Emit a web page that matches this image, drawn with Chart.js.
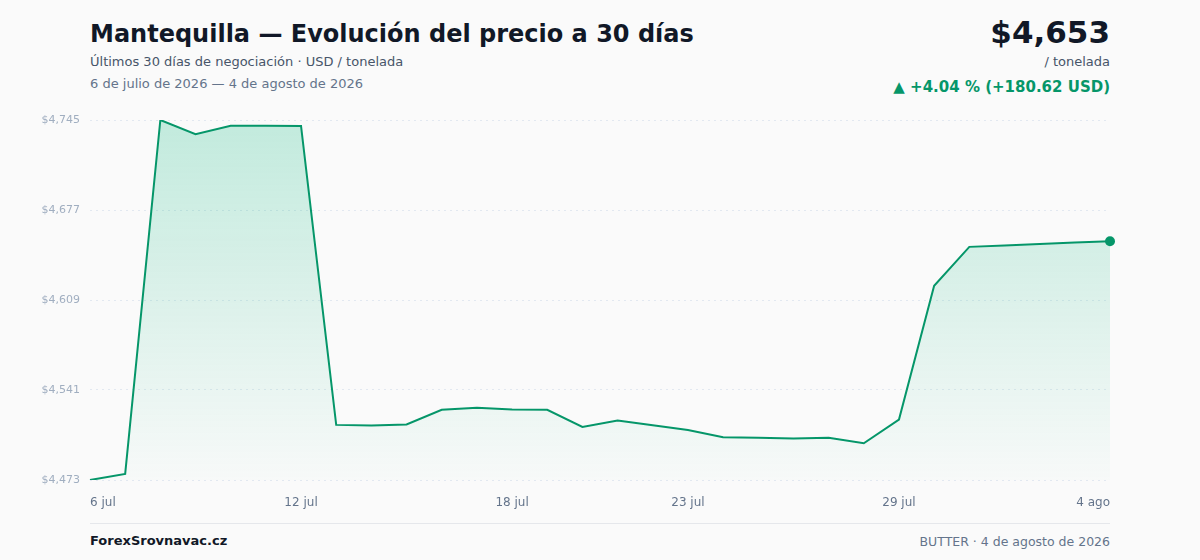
<!DOCTYPE html>
<html lang="es">
<head>
<meta charset="utf-8">
<title>Mantequilla — Evolución del precio a 30 días</title>
<script src="https://cdn.jsdelivr.net/npm/chart.js@4/dist/chart.umd.min.js"></script>
<style>
  html, body { margin: 0; padding: 0; }
  body {
    width: 1200px; height: 560px; position: relative; overflow: hidden;
    background: #fafafa; font-family: "DejaVu Sans", sans-serif;
  }
  .abs { position: absolute; white-space: nowrap; }
  #title { left: 90px; top: 20px; font-size: 24px; font-weight: bold; color: #111827; }
  #sub { left: 90px; top: 54px; font-size: 13px; color: #475569; }
  #range { left: 90px; top: 76px; font-size: 13px; color: #64748b; }
  #price { right: 90px; top: 14px; font-size: 31px; font-weight: bold; color: #111827; }
  #unit { right: 90px; top: 54px; font-size: 13px; color: #475569; }
  #change { right: 90px; top: 78px; font-size: 15px; font-weight: bold; color: #059669; }
  #wrap { left: 0; top: 100px; width: 1200px; height: 420px; }
  #rule { left: 90px; top: 523px; width: 1020px; height: 1px; background: #e5e7eb; }
  #brand { left: 90px; top: 533px; font-size: 13px; font-weight: bold; color: #111827; }
  #stamp { right: 90px; top: 534px; font-size: 12.5px; color: #64748b; }
</style>
</head>
<body>
<div class="abs" id="title">Mantequilla — Evolución del precio a 30 días</div>
<div class="abs" id="sub">Últimos 30 días de negociación · USD / tonelada</div>
<div class="abs" id="range">6 de julio de 2026 — 4 de agosto de 2026</div>
<div class="abs" id="price">$4,653</div>
<div class="abs" id="unit">/ tonelada</div>
<div class="abs" id="change">▲ +4.04 % (+180.62 USD)</div>
<div class="abs" id="wrap"><canvas id="priceChart"></canvas></div>
<div class="abs" id="rule"></div>
<div class="abs" id="brand">ForexSrovnavac.cz</div>
<div class="abs" id="stamp">BUTTER · 4 de agosto de 2026</div>

<script>
// daily closes, USD per tonne
const days = [
  '6 jul', '7 jul', '8 jul', '9 jul', '10 jul', '11 jul', '12 jul', '13 jul', '14 jul', '15 jul',
  '16 jul', '17 jul', '18 jul', '19 jul', '20 jul', '21 jul', '22 jul', '23 jul', '24 jul', '25 jul',
  '26 jul', '27 jul', '28 jul', '29 jul', '30 jul', '31 jul', '1 ago', '2 ago', '3 ago', '4 ago'
];
const prices = [
  4472.6, 4477.2, 4745.0, 4734.2, 4740.7, 4740.6, 4740.5, 4514.3, 4513.8, 4514.6,
  4525.7, 4527.2, 4525.9, 4525.7, 4512.8, 4517.6, 4514.0, 4510.5, 4505.0, 4504.5,
  4504.0, 4504.5, 4500.4, 4518.3, 4619.6, 4649.0, 4650.0, 4651.1, 4652.3, 4653.2
];
const shownDays = ['6 jul', '12 jul', '18 jul', '23 jul', '29 jul', '4 ago'];

const green = '#059669';
const lo = Math.min(...prices);
const hi = Math.max(...prices);

// only the last point gets a marker
const radii = prices.map((v, i) => i === prices.length - 1 ? 5 : 0);

const ctx = document.getElementById('priceChart').getContext('2d');
new Chart(ctx, {
  type: 'line',
  data: {
    labels: days,
    datasets: [{
      data: prices,
      borderColor: green,
      borderWidth: 2,
      tension: 0,
      pointRadius: radii,
      pointBackgroundColor: green,
      pointBorderWidth: 0,
      fill: 'start',
      backgroundColor: (c) => {
        const area = c.chart.chartArea;
        if (!area) return 'rgba(16,185,129,0.15)';
        const g = c.chart.ctx.createLinearGradient(0, area.top, 0, area.bottom);
        g.addColorStop(0, 'rgba(16,185,129,0.24)');
        g.addColorStop(1, 'rgba(16,185,129,0.01)');
        return g;
      }
    }]
  },
  options: {
    responsive: true,
    maintainAspectRatio: false,
    animation: false,
    layout: { padding: { top: 20, right: 90, left: 0, bottom: 0 } },
    plugins: { legend: { display: false }, tooltip: { enabled: false } },
    scales: {
      x: {
        grid: { display: false, drawTicks: false },
        border: { display: false },
        afterFit: (s) => { s.height = 40; },
        ticks: {
          autoSkip: false,
          maxRotation: 0,
          align: 'inner',
          padding: 16,
          color: '#64748b',
          font: { family: 'DejaVu Sans', size: 12 },
          callback: function (v, i) {
            const l = this.getLabelForValue(v);
            return shownDays.includes(l) ? l : '';
          }
        }
      },
      y: {
        min: lo,
        max: hi,
        border: { display: false, dash: [2, 4] },
        grid: { color: '#e2e8f0', drawTicks: false, lineWidth: 1 },
        afterFit: (s) => { s.width = 90; },
        afterBuildTicks: (s) => {
          const step = (hi - lo) / 4;
          s.ticks = [0, 1, 2, 3, 4].map(k => ({ value: lo + k * step }));
        },
        ticks: {
          padding: 10,
          color: '#a0aec0',
          font: { family: 'DejaVu Sans', size: 11 },
          callback: (v) => '$' + Math.round(v).toLocaleString('en-US')
        }
      }
    }
  }
});
</script>
</body>
</html>
